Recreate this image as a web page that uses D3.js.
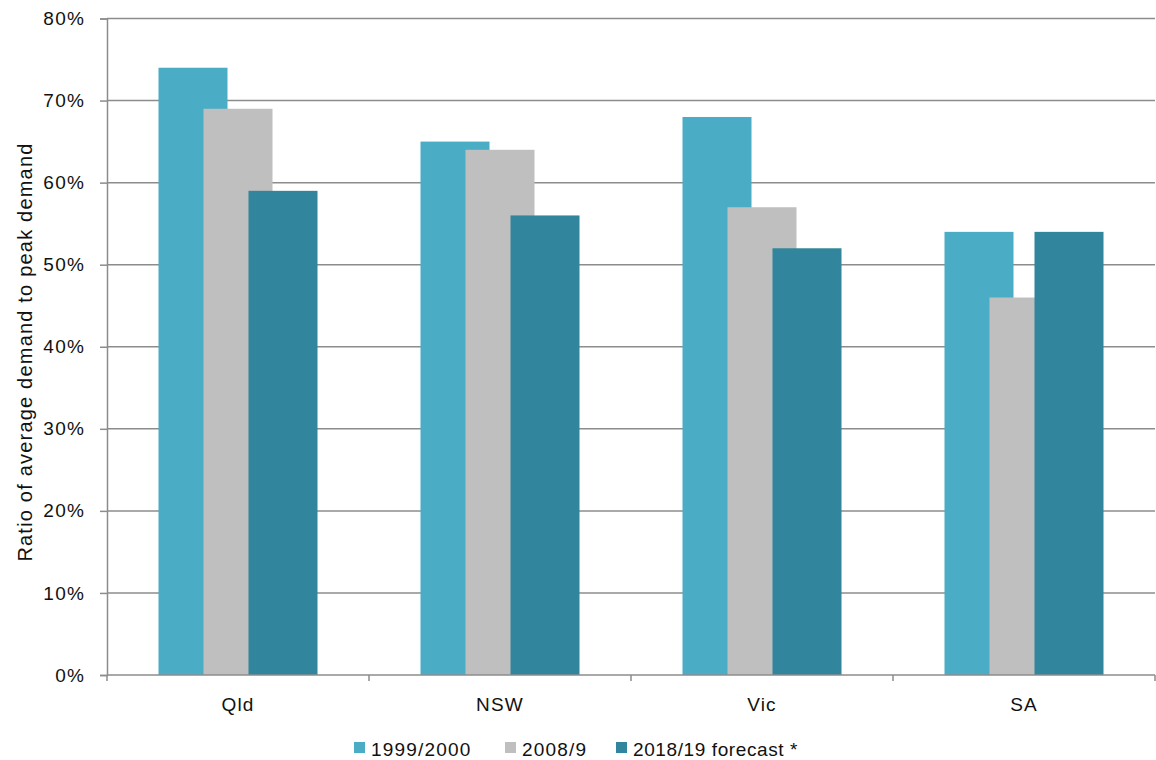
<!DOCTYPE html>
<html>
<head>
<meta charset="utf-8">
<script src="https://cdn.jsdelivr.net/npm/d3@7"></script>
<style>
  html, body { margin: 0; padding: 0; background: #fff; }
  svg { display: block; font-family: "Liberation Sans", Arial, sans-serif; }
</style>
</head>
<body>
<svg id="chart" width="1156" height="760"></svg>
<script>
// Regions and series
const regions = ["Qld", "NSW", "Vic", "SA"];
const seriesNames = ["1999/2000", "2008/9", "2018/19 forecast *"];
const seriesColors = ["#4BACC6", "#BFBFBF", "#31859C"];
const values1999 = [74, 65, 68, 54];
const values2008 = [69, 64, 57, 46];
const values2018 = [59, 56, 52, 54];
const yTicks = [0, 10, 20, 30, 40, 50, 60, 70, 80];

const series = [values1999, values2008, values2018];

const svg = d3.select("#chart");
const margin = { left: 107, right: 1, top: 18.5, bottom: 85 };
const W = 1156, H = 760;
const FONT = 19, SPACING = "1.2px";

const x = d3.scaleBand().domain(regions).range([margin.left, W - margin.right]);
const y = d3.scaleLinear().domain([0, 80]).range([H - margin.bottom, margin.top]);

// Gridlines
svg.append("g")
  .selectAll("line")
  .data(yTicks.filter(t => t > 0))
  .join("line")
  .attr("x1", margin.left).attr("x2", W - margin.right)
  .attr("y1", d => y(d)).attr("y2", d => y(d))
  .attr("stroke", "#8c8c8c").attr("stroke-width", 1.5);

// Bars: each series overlaps the previous one, offset within the band
const barW = 69, step = 45;
const groupSpan = barW + step * (series.length - 1);
series.forEach((vals, si) => {
  svg.append("g")
    .selectAll("rect")
    .data(vals)
    .join("rect")
    .attr("x", (d, i) => x(regions[i]) + x.bandwidth() / 2 - groupSpan / 2 + si * step)
    .attr("y", d => y(d))
    .attr("width", barW)
    .attr("height", d => y(0) - y(d))
    .attr("fill", seriesColors[si]);
});

// Y axis
const yAxis = d3.axisLeft(y).tickValues(yTicks).tickFormat(d => d + "%").tickSize(7).tickPadding(15);
const gy = svg.append("g").attr("transform", `translate(${margin.left},0)`).call(yAxis);
gy.select(".domain").attr("stroke", "#8c8c8c").attr("stroke-width", 1.5);
gy.selectAll(".tick line").attr("stroke", "#8c8c8c").attr("stroke-width", 1.5);
gy.selectAll(".tick text")
  .attr("font-size", FONT).attr("fill", "#111")
  .attr("letter-spacing", SPACING)
  .attr("font-family", "Liberation Sans, Arial, sans-serif");

// X axis with ticks on band boundaries
const gx = svg.append("g").attr("transform", `translate(0,${y(0)})`);
gx.append("line")
  .attr("x1", margin.left).attr("x2", W - margin.right)
  .attr("stroke", "#8c8c8c").attr("stroke-width", 1.5);
const bounds = regions.map(r => x(r)).concat([x(regions[regions.length - 1]) + x.bandwidth()]);
gx.selectAll(".bt").data(bounds).join("line")
  .attr("x1", d => d).attr("x2", d => d).attr("y1", 0).attr("y2", 6)
  .attr("stroke", "#8c8c8c").attr("stroke-width", 1.5);
gx.selectAll("text").data(regions).join("text")
  .attr("x", d => x(d) + x.bandwidth() / 2)
  .attr("y", 36)
  .attr("text-anchor", "middle")
  .attr("font-size", FONT).attr("fill", "#111")
  .attr("letter-spacing", SPACING)
  .text(d => d);

// Y axis title
svg.append("text")
  .attr("transform", `translate(32,352) rotate(-90)`)
  .attr("text-anchor", "middle")
  .attr("font-size", 20).attr("fill", "#111")
  .attr("letter-spacing", "1.2px")
  .text("Ratio of average demand to peak demand");

// Legend
const legendX = [354, 505, 616];
const leg = svg.append("g");
seriesNames.forEach((name, i) => {
  leg.append("rect").attr("x", legendX[i]).attr("y", 742).attr("width", 11).attr("height", 11).attr("fill", seriesColors[i]);
  leg.append("text").attr("x", legendX[i] + 17).attr("y", 756)
    .attr("font-size", FONT).attr("fill", "#111")
    .attr("letter-spacing", i === 2 ? "0.6px" : SPACING)
    .text(name);
});
</script>
</body>
</html>
